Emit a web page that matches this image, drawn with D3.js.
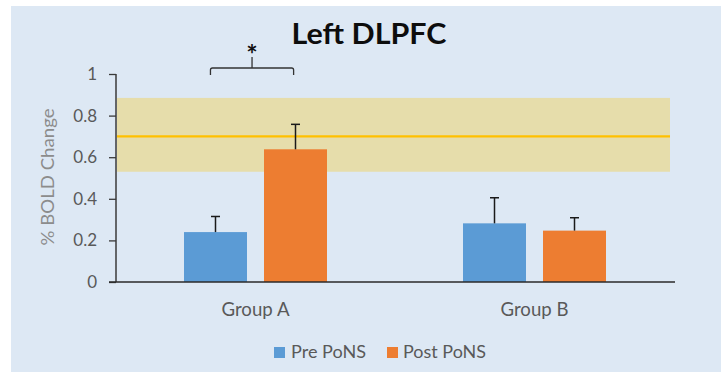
<!DOCTYPE html>
<html>
<head>
<meta charset="utf-8">
<script src="https://cdn.jsdelivr.net/npm/d3@7"></script>
<style>
  html, body { margin: 0; padding: 0; background: #ffffff; }
  svg { display: block; }
  text { font-family: Lato, "Open Sans", sans-serif; }
</style>
</head>
<body>
<svg id="chart" width="721" height="372"></svg>
<script>
// Mean % BOLD change in left DLPFC, before and after PoNS
const groups = ["Group A", "Group B"];
const series = ["Pre PoNS", "Post PoNS"];
const preValues = [0.24, 0.282];
const postValues = [0.638, 0.247];
const preErrors = [0.075, 0.123];
const postErrors = [0.12, 0.062];
const yTicks = [0, 0.2, 0.4, 0.6, 0.8, 1];
// Reference range (mean and band) shown behind the bars
const refMean = 0.70;
const refLow = 0.53;
const refHigh = 0.885;

const colors = { "Pre PoNS": "#5b9bd5", "Post PoNS": "#ed7d31" };

const svg = d3.select("#chart");
const W = 721, H = 372;

// Panel background
svg.append("rect")
  .attr("x", 11).attr("y", 6)
  .attr("width", W - 11).attr("height", H - 6)
  .attr("fill", "#dde8f4");

const plotLeft = 116, plotRight = 675;
const y = d3.scaleLinear().domain([0, 1]).range([282, 74]);
const x0 = d3.scaleBand().domain(groups).range([plotLeft, plotRight - 1]).padding(0);
const x1 = d3.scaleBand().domain(series).range([68, 211]).paddingInner(0.2125).paddingOuter(0);

// Reference band and mean line
svg.append("rect")
  .attr("x", plotLeft + 1)
  .attr("y", y(refHigh))
  .attr("width", 670 - plotLeft - 1)
  .attr("height", y(refLow) - y(refHigh))
  .attr("fill", "#e6ddab");
svg.append("line")
  .attr("x1", plotLeft + 1).attr("x2", 670)
  .attr("y1", y(refMean)).attr("y2", y(refMean))
  .attr("stroke", "#ffc000").attr("stroke-width", 2.2);

// Bars
const rows = [];
groups.forEach((g, i) => {
  rows.push({ group: g, key: "Pre PoNS", value: preValues[i], err: preErrors[i] });
  rows.push({ group: g, key: "Post PoNS", value: postValues[i], err: postErrors[i] });
});

svg.append("g").selectAll("rect")
  .data(rows)
  .join("rect")
  .attr("x", d => x0(d.group) + x1(d.key))
  .attr("y", d => y(d.value))
  .attr("width", x1.bandwidth())
  .attr("height", d => y(0) - y(d.value))
  .attr("fill", d => colors[d.key]);

// Error bars (upper only)
const eb = svg.append("g").attr("stroke", "#1a1a1a").attr("stroke-width", 1.5);
rows.forEach(d => {
  const cx = x0(d.group) + x1(d.key) + x1.bandwidth() / 2;
  eb.append("line")
    .attr("x1", cx).attr("x2", cx)
    .attr("y1", y(d.value)).attr("y2", y(d.value + d.err));
  eb.append("line")
    .attr("x1", cx - 4.5).attr("x2", cx + 4.5)
    .attr("y1", y(d.value + d.err)).attr("y2", y(d.value + d.err));
});

// Y axis
const yAxis = svg.append("g")
  .attr("transform", `translate(${plotLeft},0)`)
  .call(d3.axisLeft(y).tickValues(yTicks).tickSize(7).tickPadding(12)
    .tickFormat(d => d3.format("")(+d.toFixed(1))));
yAxis.select(".domain").attr("stroke", "#3a3a3a").attr("stroke-width", 1.5)
  .attr("d", `M0,${y(0)}V${y(1)}`);
yAxis.selectAll(".tick line").attr("stroke", "#3a3a3a").attr("stroke-width", 1.3);
yAxis.selectAll(".tick text")
  .attr("fill", "#595959")
  .style("font-size", "17px")
  .style("font-family", "Lato, sans-serif");

// X axis baseline
const xAxis = svg.append("g")
  .attr("transform", `translate(0,${y(0)})`)
  .call(d3.axisBottom(x0).tickSize(0).tickPadding(0));
xAxis.select(".domain").attr("stroke", "#2a2a2a").attr("stroke-width", 1.6)
  .attr("d", `M${plotLeft - 7},0H${plotRight}`);
xAxis.selectAll(".tick text")
  .attr("fill", "#595959")
  .attr("y", 34)
  .attr("dy", 0)
  .attr("textLength", 68)
  .attr("lengthAdjust", "spacingAndGlyphs")
  .style("font-size", "19px")
  .style("font-family", "Lato, sans-serif");

// Y axis title
svg.append("text")
  .attr("transform", `translate(54,${(y(0) + y(1)) / 2 - 1}) rotate(-90)`)
  .attr("text-anchor", "middle")
  .attr("fill", "#8c8c8c")
  .attr("textLength", 137)
  .attr("lengthAdjust", "spacingAndGlyphs")
  .style("font-size", "17px")
  .text("% BOLD Change");

// Chart title
svg.append("text")
  .attr("x", 291.5).attr("y", 43.5)
  .attr("fill", "#0d0d0d")
  .attr("textLength", 155)
  .attr("lengthAdjust", "spacingAndGlyphs")
  .style("font-size", "28px")
  .style("font-weight", "700")
  .text("Left DLPFC");

// Significance bracket between Pre and Post of Group A
const gA = groups[0];
const bl = x0(gA) + x1("Pre PoNS") + x1.bandwidth() * 0.42;
const br = x0(gA) + x1("Post PoNS") + x1.bandwidth() * 0.47;
const bm = (bl + br) / 2;
const by = y(1) - 6, bEnd = y(1) + 1, bTop = y(1) - 17;
svg.append("path")
  .attr("d", `M${bl},${bEnd}V${by + 2}Q${bl},${by} ${bl + 2},${by}H${br - 2}Q${br},${by} ${br},${by + 2}V${bEnd}`)
  .attr("fill", "none").attr("stroke", "#333").attr("stroke-width", 1.3);
svg.append("line")
  .attr("x1", bm).attr("x2", bm).attr("y1", by).attr("y2", bTop)
  .attr("stroke", "#333").attr("stroke-width", 1.3);
svg.append("text")
  .attr("x", bm).attr("y", y(1) - 10)
  .attr("text-anchor", "middle")
  .attr("fill", "#111")
  .style("font-size", "27px")
  .style("font-weight", "700")
  .text("*");

// Legend
const legendItems = [
  { key: "Pre PoNS", sx: 274, tx: 291, w: 75 },
  { key: "Post PoNS", sx: 387, tx: 403, w: 83 }
];
const lg = svg.append("g");
legendItems.forEach(it => {
  lg.append("rect")
    .attr("x", it.sx).attr("y", 347)
    .attr("width", 11).attr("height", 11)
    .attr("fill", colors[it.key]);
  lg.append("text")
    .attr("x", it.tx).attr("y", 357.5)
    .attr("fill", "#595959")
    .attr("textLength", it.w)
    .attr("lengthAdjust", "spacingAndGlyphs")
    .style("font-size", "17px")
    .text(it.key);
});
</script>
</body>
</html>
